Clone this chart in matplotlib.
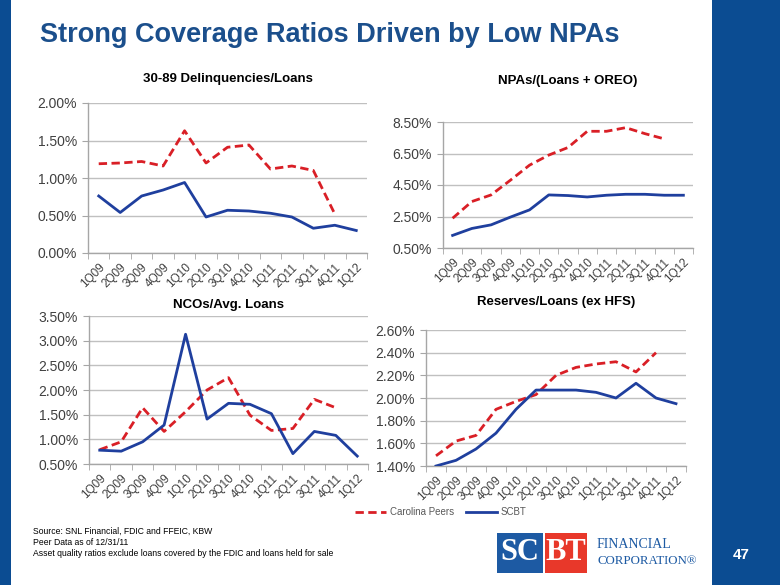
import numpy as np
import matplotlib
matplotlib.use("Agg")
import matplotlib.pyplot as plt
from matplotlib.ticker import FuncFormatter, FixedLocator
from matplotlib.patches import Rectangle

plt.rcParams['font.family'] = ['Liberation Sans', 'DejaVu Sans']

quarters = ["1Q09", "2Q09", "3Q09", "4Q09", "1Q10", "2Q10", "3Q10",
            "4Q10", "1Q11", "2Q11", "3Q11", "4Q11", "1Q12"]

# 30-89 Delinquencies/Loans (%)
delinq_peers = [1.19, 1.20, 1.22, 1.16, 1.63, 1.20, 1.41, 1.44, 1.12, 1.16, 1.10, 0.52]
delinq_scbt = [0.76, 0.54, 0.76, 0.84, 0.94, 0.48, 0.57, 0.56, 0.53, 0.48, 0.33, 0.37, 0.30]

# NPAs/(Loans + OREO) (%)
npa_peers = [2.39, 3.45, 3.87, 4.80, 5.76, 6.40, 6.88, 7.91, 7.91, 8.14, 7.76, 7.43]
npa_scbt = [1.30, 1.74, 1.97, 2.46, 2.92, 3.87, 3.83, 3.74, 3.85, 3.91, 3.91, 3.85, 3.85]

# NCOs/Avg. Loans (%)
nco_peers = [0.79, 0.95, 1.64, 1.16, 1.56, 2.00, 2.25, 1.49, 1.18, 1.22, 1.81, 1.64]
nco_scbt = [0.78, 0.76, 0.95, 1.29, 3.13, 1.41, 1.73, 1.71, 1.52, 0.71, 1.16, 1.08, 0.66]

# Reserves/Loans (ex HFS) (%)
res_peers = [1.49, 1.62, 1.67, 1.90, 1.97, 2.03, 2.20, 2.27, 2.30, 2.32, 2.23, 2.40]
res_scbt = [1.40, 1.45, 1.55, 1.69, 1.90, 2.07, 2.07, 2.07, 2.05, 2.00, 2.13, 2.00, 1.95]

series_names = ["Carolina Peers", "SCBT"]

W, H = 780, 585
fig = plt.figure(figsize=(W / 100, H / 100), dpi=100)
fig.patch.set_facecolor("white")

BAR = "#0b4c92"
TITLE_BLUE = "#1b4f8c"
RED = "#d91f26"
BLUE = "#1f3f9e"
GRID = "#c0c0c0"
TXT = "#404040"


def px_axes(left, top, right, bottom):
    return fig.add_axes([left / W, 1 - bottom / H, (right - left) / W, (bottom - top) / H])


def fig_text(x, y, s, **kw):
    fig.text(x / W, 1 - y / H, s, **kw)


# side bars
fig.patches.append(Rectangle((0, 0), 11 / W, 1, transform=fig.transFigure,
                             facecolor=BAR, edgecolor="none", zorder=0))
fig.patches.append(Rectangle((712 / W, 0), 68 / W, 1, transform=fig.transFigure,
                             facecolor=BAR, edgecolor="none", zorder=0))

fig_text(40, 35, "Strong Coverage Ratios Driven by Low NPAs", fontsize=19.5,
         fontweight="bold", color=TITLE_BLUE, va="center", ha="left")

charts = [
    ("30-89 Delinquencies/Loans", (88, 103, 367, 253), 79, delinq_peers, delinq_scbt,
     (0.0, 2.0), np.arange(0.0, 2.01, 0.5)),
    ("NPAs/(Loans + OREO)", (443, 122, 693, 248), 81, npa_peers, npa_scbt,
     (0.5, 8.5), np.arange(0.5, 8.51, 2.0)),
    ("NCOs/Avg. Loans", (89, 316, 368, 464), 305, nco_peers, nco_scbt,
     (0.5, 3.5), np.arange(0.5, 3.51, 0.5)),
    ("Reserves/Loans (ex HFS)", (426, 330, 686, 466), 302, res_peers, res_scbt,
     (1.4, 2.6), np.arange(1.4, 2.61, 0.2)),
]

x_all = np.arange(len(quarters))
handles = None
for title, box, ty, peers, scbt, ylim, yticks in charts:
    ax = px_axes(*box)
    l1, = ax.plot(x_all[:len(peers)], peers, color=RED, lw=2.0, ls=(0, (3, 1.6)),
                  dash_capstyle="butt", zorder=3)
    l2, = ax.plot(x_all[:len(scbt)], scbt, color=BLUE, lw=2.0, zorder=4)
    handles = [l1, l2]
    ax.set_xlim(-0.5, len(quarters) - 0.5)
    ax.set_ylim(*ylim)
    ax.set_yticks(yticks)
    ax.yaxis.set_major_formatter(FuncFormatter(lambda v, p: f"{v:.2f}%"))
    ax.grid(axis="y", color=GRID, lw=1.0)
    ax.set_axisbelow(True)
    for s in ("top", "right"):
        ax.spines[s].set_visible(False)
    for s in ("left", "bottom"):
        ax.spines[s].set_color("#a6a6a6")
        ax.spines[s].set_linewidth(1.0)
    ax.set_xticks(x_all)
    ax.set_xticklabels(quarters, rotation=45, ha="right", rotation_mode="anchor")
    ax.xaxis.set_minor_locator(FixedLocator(np.arange(-0.5, len(quarters), 1.0)))
    ax.tick_params(axis="x", which="major", length=0, pad=6, labelsize=8.5, labelcolor=TXT)
    ax.tick_params(axis="x", which="minor", length=4, color="#a6a6a6", direction="out")
    ax.tick_params(axis="y", length=4, color="#a6a6a6", labelsize=10, labelcolor=TXT, pad=4)
    cx = (box[0] + box[2]) / 2
    fig_text(cx, ty, title, fontsize=9.5, fontweight="bold", color="black",
             ha="center", va="center")

leg = fig.legend(handles, series_names, loc="center",
                 bbox_to_anchor=(441 / W, 1 - 512 / H), ncol=2, frameon=False,
                 fontsize=7, handlelength=3.2, columnspacing=1.2, handletextpad=0.4,
                 labelcolor="#595959")

# footer notes
notes = ["Source: SNL Financial, FDIC and FFEIC, KBW",
         "Peer Data as of 12/31/11",
         "Asset quality ratios exclude loans covered by the FDIC and loans held for sale"]
for i, n in enumerate(notes):
    fig_text(33, 531 + i * 11.5, n, fontsize=6.2, color="black", ha="left", va="center")

# logo
fig.patches.append(Rectangle((497 / W, 1 - 573 / H), 46 / W, 40 / H, transform=fig.transFigure,
                             facecolor="#1d5aa3", edgecolor="none"))
fig.patches.append(Rectangle((545 / W, 1 - 573 / H), 42 / W, 40 / H, transform=fig.transFigure,
                             facecolor="#e8382a", edgecolor="none"))
fig_text(520, 553, "SC", fontsize=22, color="white", ha="center", va="center",
         family=["Liberation Serif"], fontweight="bold")
fig_text(566, 553, "BT", fontsize=22, color="white", ha="center", va="center",
         family=["Liberation Serif"], fontweight="bold")
fig_text(597, 545, "FINANCIAL", fontsize=10, color="#1d5aa3", ha="left", va="center",
         family=["Liberation Serif"])
fig_text(597, 561, "CORPORATION®", fontsize=9.3, color="#1d5aa3", ha="left", va="center",
         family=["Liberation Serif"])

fig_text(741, 555, "47", fontsize=11, fontweight="bold", color="white", ha="center", va="center")

fig.savefig("out.png", dpi=100, facecolor="white")
